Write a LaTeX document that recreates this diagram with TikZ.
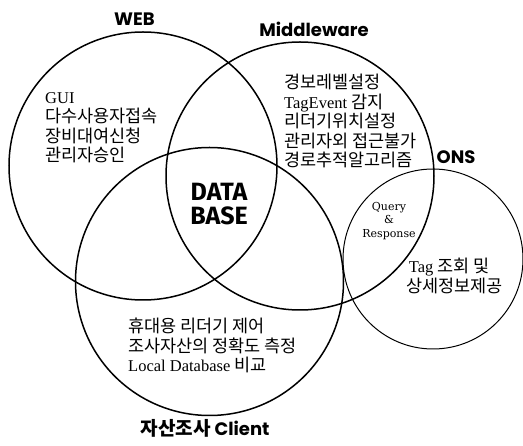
\documentclass[tikz,border=0pt]{standalone}
\usepackage{fontspec}
\setmainfont{Liberation Serif}
\newfontfamily\kr{Noto Sans CJK KR}[Scale=1.06]
\newfontfamily\titlefont{Poppins}
\newfontfamily\dbfont{Fira Sans}
\newfontfamily\qrfont{DejaVu Serif}
\usepackage{tikz}

\begin{document}
\begin{tikzpicture}[x=1pt, y=-1pt,
    ring/.style={line width=1.5pt},
    title/.style={inner sep=0pt, font=\titlefont\bfseries\fontsize{18}{20}\selectfont},
    body/.style={inner sep=0pt, anchor=north west, align=left,
      font=\fontsize{16.5}{19.5}\selectfont}]
    \useasboundingbox (0,0) rectangle (523,446);

    \draw[ring] (143,166) circle[radius=134pt];
    \draw[ring] (300,176) circle[radius=134pt];
    \draw[ring] (209.5,281.5) circle[radius=134pt];
    \draw[line width=1pt] (433,259) circle[radius=90pt];

    \node[title] (web) at (134.5,19.5) {WEB};
    \node[title] (mid) at (314,29) {Middleware};
    \node[title] (ons) at (456,157.5) {ONS};
    \node[title] (cli) at (205,428) {{\kr\bfseries 자산조사} Client};

    \node[body] (webtxt) at (45,92) {GUI\\{\kr 다수사용자접속}\\{\kr 장비대여신청}\\{\kr 관리자승인}};
    \node[body] (midtxt) at (284,74) {{\kr 경보레벨설정}\\TagEvent {\kr 감지}\\{\kr 리더기위치설정}\\{\kr 관리자외 접근불가}\\{\kr 경로추적알고리즘}};
    \node[body] (clitxt) at (128,318) {{\kr 휴대용 리더기 제어}\\{\kr 조사자산의 정확도 측정}\\Local Database {\kr 비교}};
    \node[body] (onstxt) at (406,258) {\,Tag {\kr 조회 및}\\{\kr 상세정보제공}};

    \node[inner sep=0pt, align=center, font=\dbfont\bfseries\fontsize{25}{24}\selectfont] (db) at (219,204) {DATA\\BASE};
    \node[inner sep=0pt, align=center, font=\qrfont\fontsize{11}{13.5}\selectfont] (qr) at (389,221) {Query\\\&\\Response};
\end{tikzpicture}
\end{document}
